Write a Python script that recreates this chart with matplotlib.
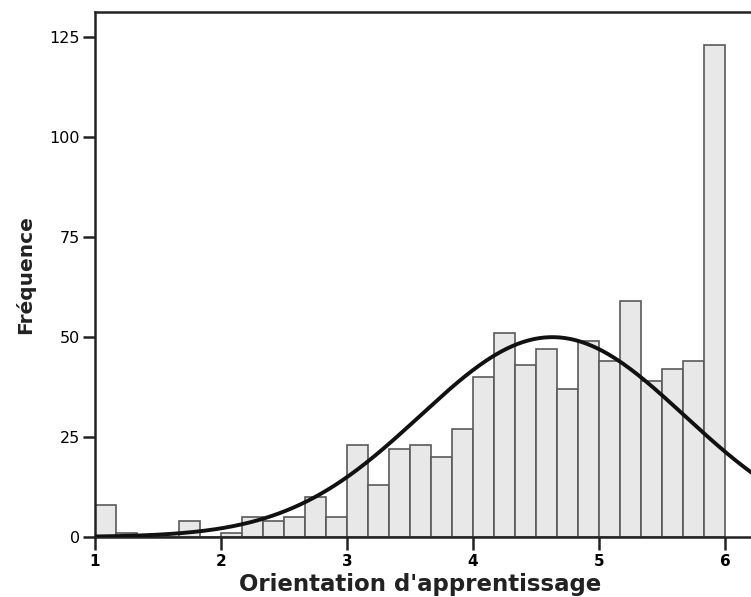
import numpy as np
import matplotlib.pyplot as plt

plt.rcParams['font.family'] = ['DejaVu Sans']

# histogram: 30 bins of width 1/6 between 1 and 6
bin_edges = np.linspace(1, 6, 31)
counts = [8, 1, 0, 0, 4, 0, 1, 5, 4, 5, 10, 5,
          23, 13, 22, 23, 20, 27, 40, 51, 43,
          47, 37, 49, 44, 59, 39, 42, 44, 123]
# normal curve parameters
mean = 4.63
sd = 1.05

xticks = [1, 2, 3, 4, 5, 6]
yticks = [0, 25, 50, 75, 100, 125]

fig = plt.figure(figsize=(7.51, 5.97), dpi=100)
ax = fig.add_axes([95 / 751, 60 / 597, 705 / 751, 525 / 597])

width = bin_edges[1] - bin_edges[0]
ax.bar(bin_edges[:-1], counts, width=width, align='edge',
       color='#e8e8e8', edgecolor='#5a5a5a', linewidth=1.2, zorder=2)

n = sum(counts)
xs = np.linspace(1, 6.6, 400)
ys = n * width * np.exp(-(xs - mean) ** 2 / (2 * sd ** 2)) / (sd * np.sqrt(2 * np.pi))
ax.plot(xs, ys, color='#111111', lw=2.8, zorder=3)

ax.set_xlim(1, 1 + 705 / 126)
ax.set_ylim(0, 131.25)
ax.set_xticks(xticks)
ax.set_yticks(yticks)
ax.set_xticklabels([str(t) for t in xticks], fontsize=11, fontweight='bold')
ax.set_yticklabels([str(t) for t in yticks], fontsize=11.5)
ax.tick_params(axis='both', length=9, width=1.8, color='#222222')
ax.tick_params(axis='x', pad=3)
ax.tick_params(axis='y', pad=2)

for s in ['left', 'bottom', 'top']:
    ax.spines[s].set_linewidth(1.8)
    ax.spines[s].set_color('#222222')
ax.spines['right'].set_visible(False)

ax.set_xlabel("Orientation d'apprentissage", fontsize=16.5, fontweight='bold',
              color='#222222')
ax.xaxis.set_label_coords((420 - 95) / 705, -36 / 525)
ax.set_ylabel('Fréquence', fontsize=14.5, fontweight='bold',
              color='#222222', labelpad=10)

fig.savefig('out.png', dpi=100)
